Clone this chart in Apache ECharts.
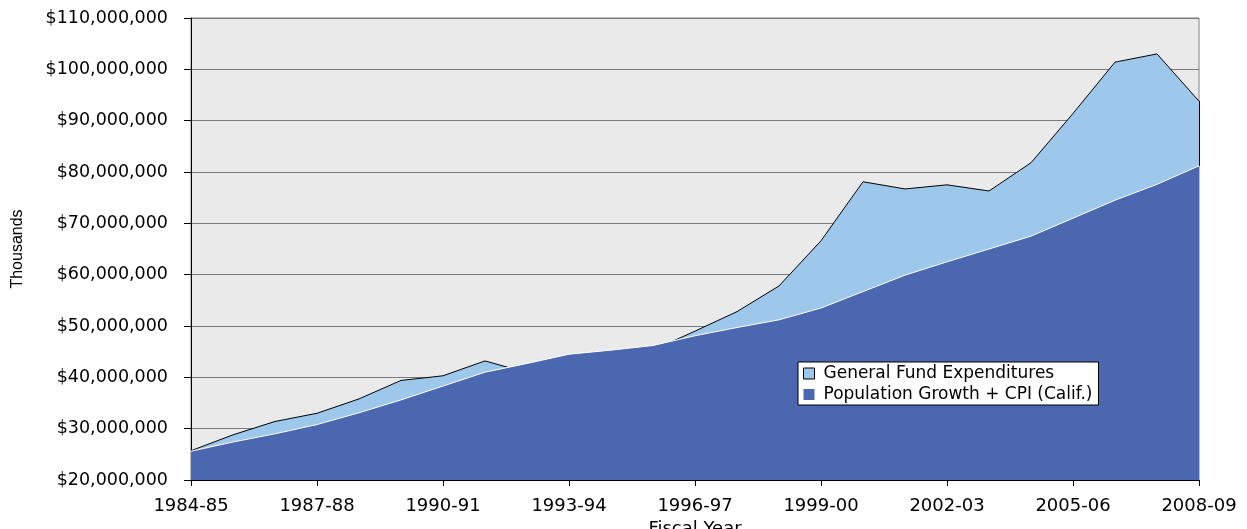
<!DOCTYPE html>
<html>
<head>
<meta charset="utf-8">
<script src="https://cdn.jsdelivr.net/npm/echarts@6/dist/echarts.min.js"></script>
<style>
  html, body { margin: 0; padding: 0; background: #ffffff; }
  #chart { width: 1247px; height: 529px; }
</style>
</head>
<body>
<div id="chart"></div>
<script>
// Fiscal years shown on the category axis
const fiscalYears = [
  '1984-85', '1985-86', '1986-87', '1987-88', '1988-89', '1989-90',
  '1990-91', '1991-92', '1992-93', '1993-94', '1994-95', '1995-96',
  '1996-97', '1997-98', '1998-99', '1999-00', '2000-01', '2001-02',
  '2002-03', '2003-04', '2004-05', '2005-06', '2006-07', '2007-08',
  '2008-09'
];

// General Fund expenditures, in thousands of dollars
const generalFundExpenditures = [
  25700000, 28800000, 31400000, 33000000, 35800000, 39400000,
  40300000, 43200000, 40900000, 38900000, 41900000, 45300000,
  49000000, 52800000, 57800000, 66600000, 78100000, 76700000,
  77500000, 76300000, 81800000, 91400000, 101400000, 103000000,
  93800000
];

// Spending level implied by population growth plus California CPI
const populationGrowthCpi = [
  25600000, 27400000, 29000000, 30800000, 33100000, 35600000,
  38300000, 41000000, 42700000, 44500000, 45300000, 46200000,
  48100000, 49700000, 51200000, 53500000, 56700000, 59900000,
  62500000, 65000000, 67500000, 71000000, 74500000, 77600000,
  81200000
];

// Value axis range and step
const axisMin = 20000000;
const axisMax = 110000000;
const axisStep = 10000000;

const seriesNames = ['General Fund Expenditures', 'Population Growth + CPI (Calif.)'];

const lightBlue = '#9dc8eb';
const darkBlue = '#4a67b0';
const wideFont = 'DejaVu Sans, Verdana, sans-serif';
const plainFont = 'Liberation Sans, Arial, sans-serif';

const lastIndex = fiscalYears.length - 1;

const chart = echarts.init(document.getElementById('chart'), null, { renderer: 'canvas' });

chart.setOption({
  animation: false,
  backgroundColor: '#ffffff',
  grid: {
    left: 191,
    right: 48,
    top: 18,
    bottom: 49,
    containLabel: false,
    outerBoundsMode: 'none',
    show: true,
    backgroundColor: '#eaeaea',
    borderColor: '#808080',
    borderWidth: 1
  },
  legend: {
    orient: 'vertical',
    left: 798,
    top: 362,
    padding: [3, 6, 2, 5],
    itemWidth: 11,
    itemHeight: 11,
    itemGap: 4,
    backgroundColor: '#ffffff',
    borderColor: '#000000',
    borderWidth: 1,
    borderRadius: 0,
    icon: 'rect',
    textStyle: {
      fontFamily: wideFont,
      fontSize: 17,
      lineHeight: 17,
      color: '#000000',
      padding: [0, 0, 0, 4]
    },
    data: [
      { name: seriesNames[0], itemStyle: { color: lightBlue, borderColor: '#000000', borderWidth: 1 } },
      { name: seriesNames[1], itemStyle: { color: darkBlue, borderWidth: 0 } }
    ]
  },
  xAxis: {
    type: 'category',
    data: fiscalYears,
    boundaryGap: false,
    name: 'Fiscal Year',
    nameLocation: 'middle',
    nameGap: 37,
    nameTextStyle: { fontFamily: wideFont, fontSize: 18, color: '#000000' },
    axisLine: { show: true, lineStyle: { color: '#000000', width: 1 } },
    axisTick: { show: true, interval: 2, length: 6, inside: false, lineStyle: { color: '#000000' } },
    axisLabel: { interval: 2, margin: 17, fontFamily: wideFont, fontSize: 18, color: '#000000' },
    splitLine: { show: false }
  },
  yAxis: {
    type: 'value',
    min: axisMin,
    max: axisMax,
    interval: axisStep,
    name: 'Thousands',
    nameLocation: 'middle',
    nameRotate: 90,
    nameGap: 165,
    nameTextStyle: { fontFamily: plainFont, fontSize: 16, color: '#000000' },
    axisLine: { show: true, lineStyle: { color: '#000000', width: 1 } },
    axisTick: { show: true, length: 7, inside: false, lineStyle: { color: '#000000' } },
    axisLabel: {
      margin: 23,
      fontFamily: wideFont,
      fontSize: 17.5,
      color: '#000000',
      formatter: v => '$' + v.toLocaleString('en-US')
    },
    splitLine: { show: true, lineStyle: { color: '#7a7a7a', width: 1 } }
  },
  series: [
    {
      name: seriesNames[0],
      type: 'line',
      data: generalFundExpenditures,
      symbol: 'none',
      color: lightBlue,
      itemStyle: { color: lightBlue },
      lineStyle: { color: '#000000', width: 1 },
      areaStyle: { color: lightBlue, opacity: 1, origin: 'start' },
      z: 2,
      markLine: {
        silent: true,
        symbol: 'none',
        label: { show: false },
        lineStyle: { color: '#000000', width: 1, type: 'solid' },
        z: 2,
        data: [[
          { coord: [fiscalYears[lastIndex], populationGrowthCpi[lastIndex]] },
          { coord: [fiscalYears[lastIndex], generalFundExpenditures[lastIndex]] }
        ]]
      }
    },
    {
      name: seriesNames[1],
      type: 'line',
      data: populationGrowthCpi,
      symbol: 'none',
      color: darkBlue,
      itemStyle: { color: darkBlue },
      lineStyle: { color: '#ffffff', width: 1 },
      areaStyle: { color: darkBlue, opacity: 1, origin: 'start' },
      z: 3
    }
  ]
});
</script>
</body>
</html>
